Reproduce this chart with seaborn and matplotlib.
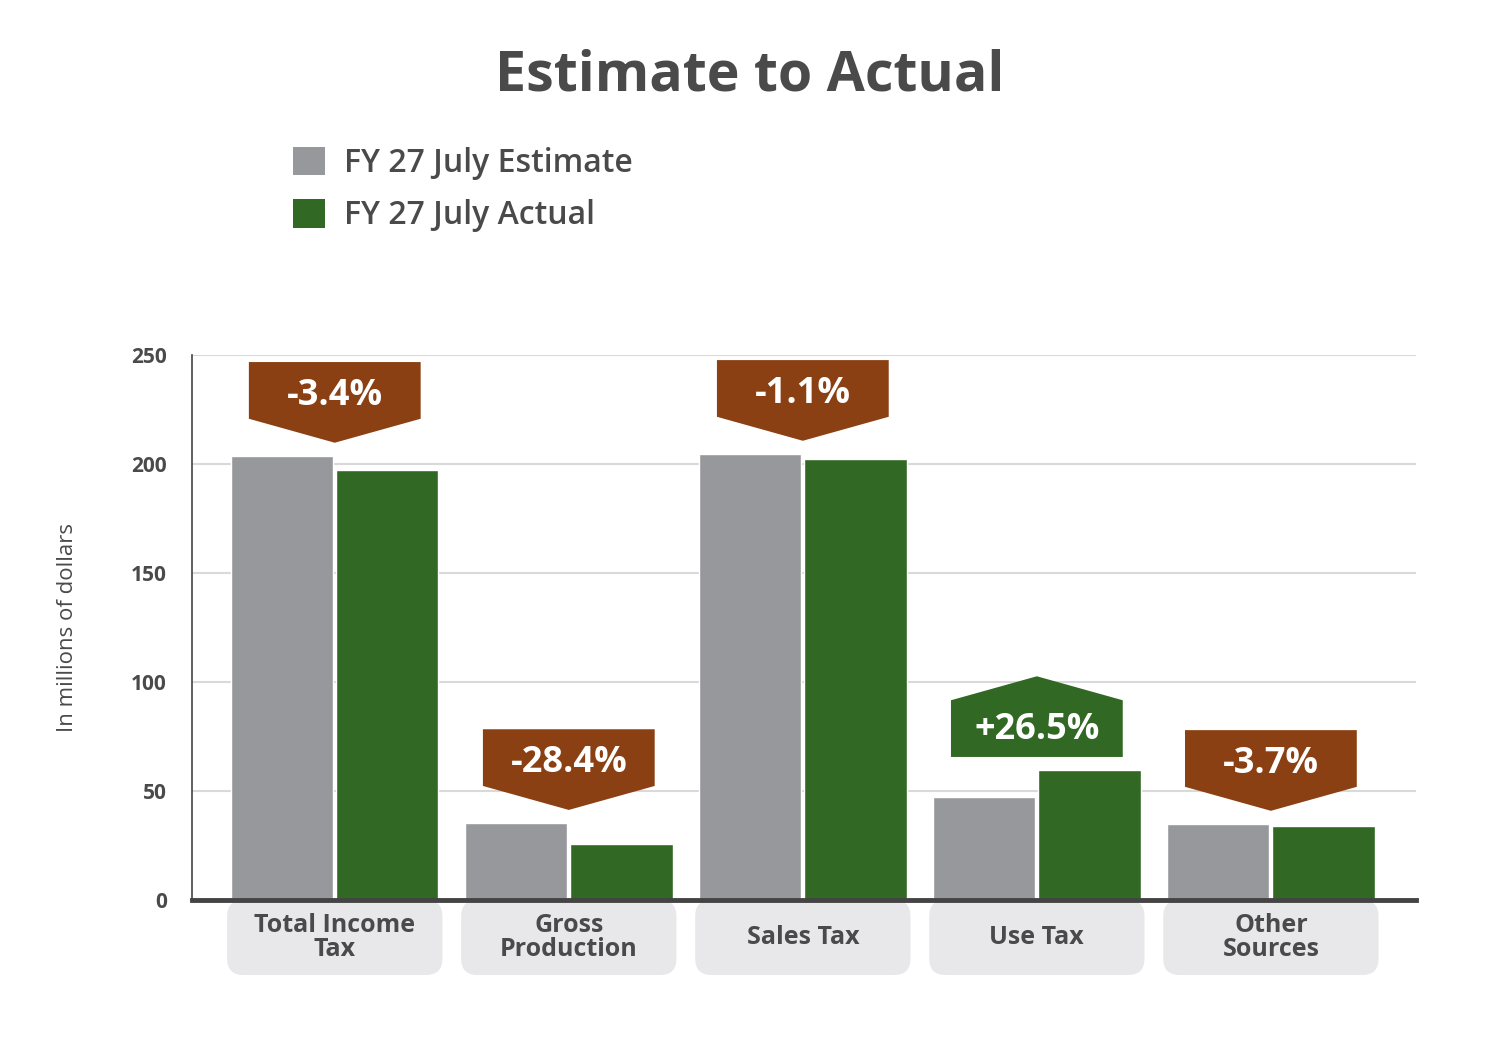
import numpy as np
import pandas as pd
import matplotlib
matplotlib.use("Agg")
import matplotlib.pyplot as plt
import seaborn as sns
from matplotlib.patches import Polygon, FancyBboxPatch, Patch

categories = ["Total Income\nTax", "Gross\nProduction", "Sales Tax", "Use Tax", "Other\nSources"]
estimate = [203.7, 35.3, 204.6, 47.2, 34.9]
actual = [197.2, 25.7, 202.3, 59.6, 33.9]
changes = ["-3.4%", "-28.4%", "-1.1%", "+26.5%", "-3.7%"]
series = ["FY 27 July Estimate", "FY 27 July Actual"]

gray, green, brown = "#97989b", "#316823", "#8b4013"
txt = "#4a4a4a"

df = pd.DataFrame({
    "cat": categories * 2,
    "val": estimate + actual,
    "series": [series[0]] * 5 + [series[1]] * 5,
})

sns.set_theme(style="white")
plt.rcParams["font.family"] = ["Open Sans", "DejaVu Sans"]

fig = plt.figure(figsize=(15, 10.53), dpi=100)
ax = fig.add_axes([0.128, 0.1453, 0.816, 0.5177])
sns.barplot(data=df, x="cat", y="val", hue="series", palette=[gray, green],
            width=0.9, gap=0.03, legend=False, ax=ax, saturation=1)

ax.set_xlim(-0.61, 4.62)
ax.set_ylim(0, 250)
ax.set_yticks(range(0, 251, 50))
ax.yaxis.grid(True, color="#d9d9d9", lw=1.5)
ax.set_axisbelow(True)
for s in ["top", "right"]:
    ax.spines[s].set_visible(False)
ax.spines["bottom"].set_color("#444444")
ax.spines["bottom"].set_linewidth(3.5)
ax.spines["bottom"].set_zorder(5)
ax.spines["left"].set_color("#444444")
ax.spines["left"].set_linewidth(1.2)
ax.tick_params(axis="y", length=0, labelsize=15, labelcolor=txt, pad=18)
for t in ax.get_yticklabels():
    t.set_fontweight("bold")
ax.set_xticks([])
ax.set_xlabel("")
ax.set_ylabel("In millions of dollars", fontsize=16, color=txt, labelpad=38)

# category label boxes under the axis
for i, c in enumerate(categories):
    box = FancyBboxPatch((i - 0.46, -34.4), 0.92, 34.4,
                         boxstyle="round,pad=0,rounding_size=0.07",
                         mutation_aspect=107, fc="#e8e8ea", ec="none",
                         clip_on=False, zorder=1, transform=ax.transData)
    ax.add_patch(box)
    ax.text(i, -17, c, ha="center", va="center", fontsize=18, fontweight="bold",
            color=txt, linespacing=0.95, clip_on=False)

# change badges
hw = 0.367
for i, ch in enumerate(changes):
    top = max(estimate[i], actual[i]) + 6
    if ch.startswith("-"):
        pts = [(i, top), (i + hw, top + 11), (i + hw, top + 37),
               (i - hw, top + 37), (i - hw, top + 11)]
        col, ty = brown, top + 23
    else:
        pts = [(i - hw, top), (i + hw, top), (i + hw, top + 26),
               (i, top + 37), (i - hw, top + 26)]
        col, ty = green, top + 14
    ax.add_patch(Polygon(pts, closed=True, fc=col, ec="none", zorder=4, clip_on=False))
    ax.text(i, ty - 1.5, ch, ha="center", va="center", color="white", fontsize=26,
            fontweight="bold", zorder=5)

fig.text(0.5, 0.928, "Estimate to Actual", ha="center", va="center",
         fontsize=40, fontweight="bold", color=txt)
handles = [Patch(fc=gray, ec="none"), Patch(fc=green, ec="none")]
fig.legend(handles, series, loc="upper left", bbox_to_anchor=(0.176, 0.888),
           frameon=False, fontsize=23, handlelength=1.0, handleheight=1.0,
           labelspacing=0.6, handletextpad=0.6, labelcolor=txt,
           prop={"size": 23, "weight": "semibold"})

fig.savefig("out.png", dpi=100)
